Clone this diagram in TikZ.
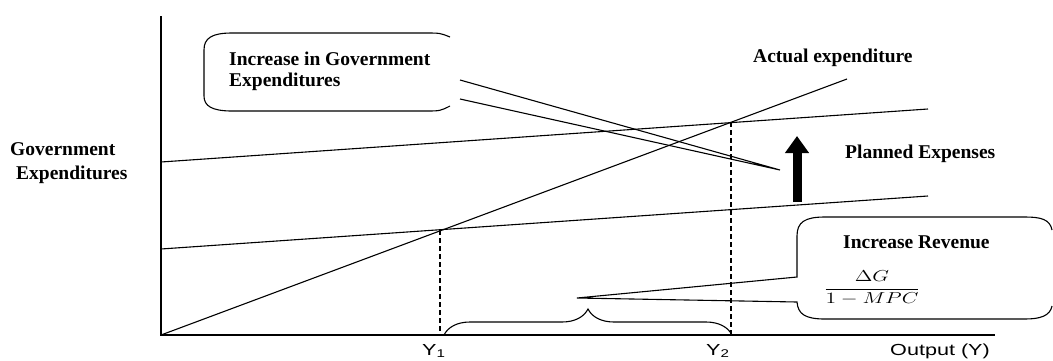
\documentclass[tikz,border=0pt]{standalone}
\usepackage{fontspec}
\setmainfont{Liberation Serif}
\newfontfamily\axisfont[FakeStretch=1.35]{Liberation Sans}
\usetikzlibrary{arrows.meta,decorations.pathreplacing}

\begin{document}
\begin{tikzpicture}[x=1pt,y=-1pt,
  lbl/.style={anchor=base west,inner sep=0pt,font=\fontsize{19.5}{22}\selectfont\bfseries},
  axlbl/.style={anchor=base west,inner sep=0pt,font=\axisfont\fontsize{16}{18}\selectfont},
  curve/.style={line width=1.1pt},
  drop/.style={dash pattern=on 5pt off 3pt,line width=1.1pt}]
  \useasboundingbox (0,0) rectangle (1053,360);
  \coordinate (O) at (161,335);
  \coordinate (Y1) at (440,230);
  \coordinate (Y2) at (731,122);
  \draw[line width=1.3pt] (161,16) -- (O) -- (995,335);
  \draw[curve] (161,249) -- (928,196);
  \draw[curve] (161,162) -- (928,109);
  \draw[curve] (O) -- (847,79);
  \draw[drop] (Y1) -- (Y1 |- O);
  \draw[drop] (Y2) -- (Y2 |- O);
  \draw[curve,decorate,decoration={brace,amplitude=26pt}] (444,335) -- (732,335);
  \draw[line width=9pt,-{Triangle[width=23pt,length=17pt]}] (797,202) -- (797,136);
  % callouts
  \coordinate (tipA) at (780,170);
  \draw[curve] (450,37) .. controls (440,33) .. (425,33) -- (232,33)
    .. controls (212,33) and (204,38) .. (204,50) -- (204,96)
    .. controls (204,106) and (212,111) .. (232,111) -- (425,111)
    .. controls (440,111) .. (450,106);
  \draw[curve] (460,80) -- (tipA) -- (460,99);
  \coordinate (tipB) at (577,298);
  \draw[curve] (1052,230) .. controls (1050,219) and (1040,217) .. (1025,217) -- (825,217)
    .. controls (805,217) and (797,222) .. (797,236) -- (797,277) -- (tipB) -- (797,302)
    .. controls (798,314) and (805,319) .. (825,319) -- (1025,319)
    .. controls (1040,319) and (1050,316) .. (1052,306);
  % labels
  \node[lbl] (govA) at (10,155) {Government};
  \node[lbl] (govB) at (16,179) {Expenditures};
  \node[lbl] (incA) at (229,65) {Increase in Government};
  \node[lbl] (incB) at (229,86) {Expenditures};
  \node[lbl] (actual) at (753,62) {Actual expenditure};
  \node[lbl] (planned) at (845,158) {Planned Expenses};
  \node[lbl] (revenue) at (843,248) {Increase Revenue};
  \node (mult) at (872,288) {\fontsize{14}{16}\selectfont\scalebox{1.5}[1.1]{$\displaystyle\frac{\Delta G}{1-MPC}$}};
  \node[axlbl] (ya) at (422,355) {Y\textsubscript{1}};
  \node[axlbl] (yb) at (706,355) {Y\textsubscript{2}};
  \node[axlbl] (out) at (890,355) {Output (Y)};
\end{tikzpicture}
\end{document}
